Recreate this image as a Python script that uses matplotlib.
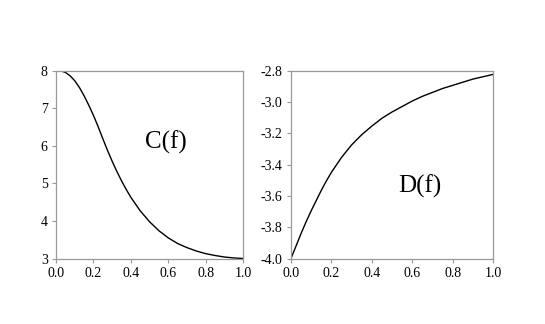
import matplotlib
matplotlib.use("Agg")
import matplotlib.pyplot as plt

f_c = [0, 0.025, 0.05, 0.075, 0.1, 0.125, 0.15, 0.175, 0.2, 0.225, 0.25, 0.275,
       0.3, 0.325, 0.35, 0.375, 0.4, 0.45, 0.5, 0.55, 0.6, 0.65, 0.7, 0.75,
       0.8, 0.85, 0.9, 0.95, 1.0]
C_vals = [8.0, 7.99, 7.95, 7.86, 7.73, 7.55, 7.33, 7.08, 6.81, 6.51, 6.19, 5.88,
          5.59, 5.32, 5.07, 4.84, 4.63, 4.27, 3.98, 3.74, 3.55, 3.40, 3.29, 3.20,
          3.13, 3.08, 3.04, 3.015, 3.0]

f_d = [0, 0.025, 0.05, 0.075, 0.1, 0.125, 0.15, 0.175, 0.2, 0.25, 0.3, 0.35, 0.4,
       0.45, 0.5, 0.55, 0.6, 0.65, 0.7, 0.75, 0.8, 0.85, 0.9, 0.95, 1.0]
D_vals = [-4.0, -3.92, -3.84, -3.765, -3.695, -3.63, -3.565, -3.505, -3.45, -3.355,
          -3.275, -3.21, -3.155, -3.105, -3.065, -3.03, -2.995, -2.965, -2.94,
          -2.915, -2.895, -2.875, -2.855, -2.84, -2.825]

x_ticks = [0.0, 0.2, 0.4, 0.6, 0.8, 1.0]
c_ticks = [3, 4, 5, 6, 7, 8]
d_ticks = [-4.0, -3.8, -3.6, -3.4, -3.2, -3.0, -2.8]

plt.rcParams['font.family'] = ['Liberation Serif', 'DejaVu Serif']

W, H = 545, 324
fig = plt.figure(figsize=(W / 100, H / 100), dpi=100)

def px_axes(x0, x1, y0, y1):
    return fig.add_axes([x0 / W, 1 - y1 / H, (x1 - x0) / W, (y1 - y0) / H])

ax1 = px_axes(56, 243, 70.5, 258.5)
ax2 = px_axes(291, 493, 70.5, 258.5)

spine_col = '#999999'
for ax in (ax1, ax2):
    for s in ax.spines.values():
        s.set_color(spine_col)
        s.set_linewidth(0.9)
    ax.tick_params(direction='out', length=3, width=0.8, color=spine_col,
                   labelsize=10, labelcolor='black', pad=3)
    ax.set_xlim(0, 1)
    ax.set_xticks(x_ticks)
    ax.set_xticklabels([f"{t:.1f}" for t in x_ticks])

ax1.plot(f_c, C_vals, color='black', lw=1.0, solid_joinstyle='round')
ax1.set_ylim(3, 8)
ax1.set_yticks(c_ticks)
ax1.set_yticklabels([str(t) for t in c_ticks])
ax1.text(0.59, 6.09, 'C(f)', fontsize=18, ha='center', va='center')

ax2.plot(f_d, D_vals, color='black', lw=1.0, solid_joinstyle='round')
ax2.set_ylim(-4.0, -2.8)
ax2.set_yticks(d_ticks)
ax2.set_yticklabels([f"{t:.1f}" for t in d_ticks])
ax2.text(0.64, -3.54, 'D(f)', fontsize=18, ha='center', va='center')

fig.savefig('out.png', dpi=100)
